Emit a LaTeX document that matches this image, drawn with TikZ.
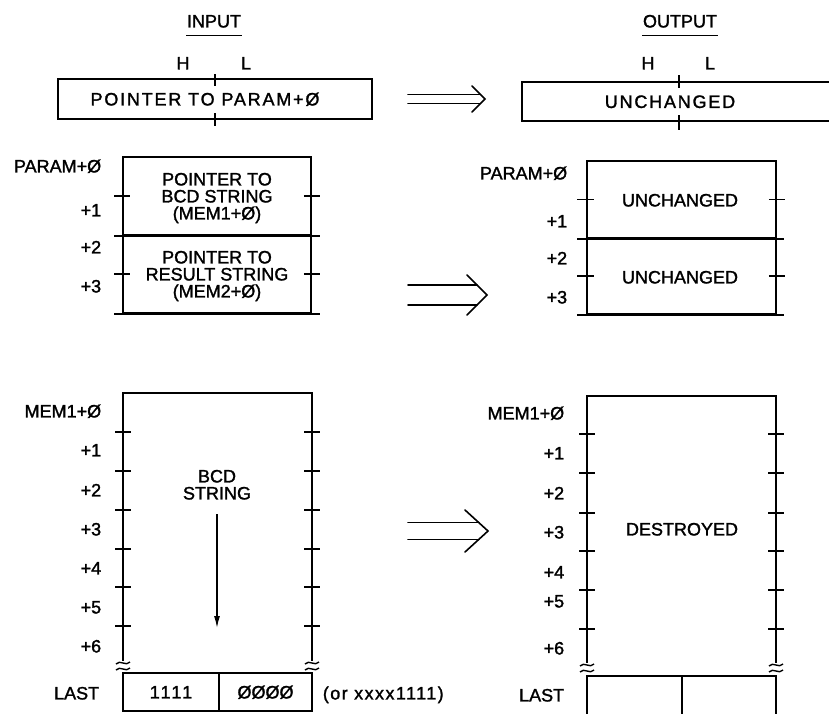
\documentclass[tikz,border=0pt]{standalone}
\usepackage{fontspec}
\setmainfont{Liberation Sans}[FakeBold=1.5]
\usetikzlibrary{calc,arrows.meta}
\begin{document}
\begin{tikzpicture}[x=1pt,y=-1pt,line width=1.7pt,line cap=butt,
  txt/.style={inner sep=0pt,text height=12.9pt,text depth=0pt,font=\fontsize{18}{17}\selectfont},
  wide/.style={txt,font=\fontsize{18}{17}\selectfont\addfontfeature{LetterSpace=10}},
  mtxt/.style={txt,align=center,text height=#1,text depth=0pt},
  lbl/.style={txt,anchor=east},
  cell/.style={draw,inner sep=0pt,minimum width=#1},
  tick/.style={line width=1.7pt},
  arr/.style={line width=1.6pt,line cap=round,line join=miter}]
\useasboundingbox (0,0) rectangle (829,713);

% ---------- headings
\node[txt] (inp) at (214,21) {INPUT};
\draw[line width=1.3pt] ($(inp.south west)+(0,7)$) -- ($(inp.south east)+(0,7)$);
\node[txt] (outp) at (680,21) {OUTPUT};
\draw[line width=1.3pt] ($(outp.south west)+(0,7)$) -- ($(outp.south east)+(0,7)$);

% ---------- top pointer boxes
\node[txt] at (183,63) {H};
\node[txt] at (246,63) {L};
\node[cell=314pt,minimum height=40pt] (ptr) at (215,99) {};
\node[wide] at (205,99) {POINTER TO PARAM+Ø};
\draw[tick] (215,74) -- (215,86) (215,113) -- (215,126);

\node[txt] at (648,63) {H};
\node[txt] at (710,63) {L};
\node[cell=314pt,minimum height=39pt] (ptro) at (679,101.5) {};
\node[wide] at (670,101.5) {UNCHANGED};
\draw[tick] (679,75) -- (679,88) (679,115) -- (679,130);

% ---------- PARAM block input
\node[cell=188pt,minimum height=78pt] (p1) at (217,196) {};
\node[cell=188pt,minimum height=78pt] (p2) at (217,274) {};
\node[mtxt=46.9pt] at (p1.center) {POINTER TO\\BCD STRING\\(MEM1+Ø)};
\node[mtxt=46.9pt] at (p2.center) {POINTER TO\\RESULT STRING\\(MEM2+Ø)};
\foreach \n in {p1,p2}{
  \draw[tick] ($(\n.west)+(-8,0)$) -- ($(\n.west)+(8,0)$);
  \draw[tick] ($(\n.east)+(-8,0)$) -- ($(\n.east)+(8,0)$);
  \draw[tick] ($(\n.south west)+(-8,0)$) -- ($(\n.south east)+(8,0)$);
}
\node[lbl] at (102,166) {PARAM+Ø};
\node[lbl] at (102,210) {+1};
\node[lbl] at (102,247) {+2};
\node[lbl] at (102,286) {+3};

% ---------- PARAM block output
\node[cell=189pt,minimum height=77pt] (q1) at (681.5,199.5) {};
\node[cell=189pt,minimum height=76pt] (q2) at (681.5,276) {};
\node[txt] at (680,200) {UNCHANGED};
\node[txt] at (680,277) {UNCHANGED};
\foreach \n in {q1,q2}{
  \draw[tick] ($(\n.west)+(-9,0)$) -- ($(\n.west)+(8,0)$);
  \draw[tick] ($(\n.east)+(-8,0)$) -- ($(\n.east)+(8,0)$);
  \draw[tick] ($(\n.south west)+(-9,0)$) -- ($(\n.south east)+(7,0)$);
}
\node[lbl] at (568,173) {PARAM+Ø};
\node[lbl] at (568,221) {+1};
\node[lbl] at (568,258) {+2};
\node[lbl] at (568,297) {+3};

% ---------- MEM block input
\coordinate (mtl) at (123,393);
\coordinate (mtr) at (312,393);
\draw (123,661) -- (mtl) -- (mtr) -- (312,661);
\foreach \y in {432,471,510,549,587,626}{
  \draw[tick] (115,\y) -- (131,\y);
  \draw[tick] (304,\y) -- (320,\y);
}
\foreach \x in {123,312}{
  \draw[line width=1.4pt] (\x-7,664) .. controls (\x-3,659) and (\x+3,667) .. (\x+7,662);
  \draw[line width=1.4pt] (\x-7,670) .. controls (\x-3,665) and (\x+3,673) .. (\x+7,668);
}
\node[cell=96pt,minimum height=38pt] (la) at (171,692) {};
\node[cell=93pt,minimum height=38pt] (lb) at (265.5,692) {};
\node[txt,font=\fontsize{18}{17}\selectfont\addfontfeature{LetterSpace=12}] at (la.center) {1111};
\node[txt] at (lb.center) {ØØØØ};
\node[txt,anchor=west,font=\fontsize{18}{17}\selectfont\addfontfeature{LetterSpace=8}] at (322,693) {(or xxxx1111)};
\node[mtxt=30.9pt] (bcd) at (217,484) {BCD\\STRING};
\coordinate (bcdend) at (217,628);
\draw[-{Latex[length=12pt,width=6pt]},line width=1.4pt] ($(bcd.south)+(0,14)$) -- (bcdend);
\node[lbl] at (102,411) {MEM1+Ø};
\node[lbl] at (102,450) {+1};
\node[lbl] at (102,490) {+2};
\node[lbl] at (102,529) {+3};
\node[lbl] at (102,568) {+4};
\node[lbl] at (102,607) {+5};
\node[lbl] at (102,646) {+6};
\node[lbl] at (100,693) {LAST};

% ---------- MEM block output
\coordinate (ntl) at (587,396);
\coordinate (ntr) at (776,396);
\draw (587,663) -- (ntl) -- (ntr) -- (776,663);
\foreach \y in {434,473,513,551,590,629}{
  \draw[tick] (579,\y) -- (595,\y);
  \draw[tick] (768,\y) -- (784,\y);
}
\foreach \x in {587,776}{
  \draw[line width=1.4pt] (\x-7,666) .. controls (\x-3,661) and (\x+3,669) .. (\x+7,664);
  \draw[line width=1.4pt] (\x-7,672) .. controls (\x-3,667) and (\x+3,675) .. (\x+7,670);
}
\coordinate (nl) at (587,676);
\coordinate (nm) at (682,676);
\coordinate (nr) at (776,676);
\draw (587,720) -- (nl) -- (nr) -- (776,720);
\draw (nm) -- (682,720);
\node[txt] at (682,529) {DESTROYED};
\node[lbl] at (565,413) {MEM1+Ø};
\node[lbl] at (565,453) {+1};
\node[lbl] at (565,493) {+2};
\node[lbl] at (565,532) {+3};
\node[lbl] at (565,572) {+4};
\node[lbl] at (565,601) {+5};
\node[lbl] at (565,648) {+6};
\node[lbl] at (565,695) {LAST};

% ---------- double arrows
\coordinate (a1) at (485,99);
\draw[arr] ($(a1)+(-77,-4.5)$) -- ($(a1)+(-5,-4.5)$);
\draw[arr] ($(a1)+(-77,4.5)$) -- ($(a1)+(-5,4.5)$);
\draw[arr] ($(a1)+(-13,-13)$) -- (a1) -- ($(a1)+(-13,13)$);

\coordinate (a2) at (487,295);
\draw[arr] ($(a2)+(-79,-10)$) -- ($(a2)+(-10,-10)$);
\draw[arr] ($(a2)+(-79,10)$) -- ($(a2)+(-10,10)$);
\draw[arr] ($(a2)+(-20,-20)$) -- (a2) -- ($(a2)+(-20,20)$);

\coordinate (a3) at (488,531);
\draw[arr] ($(a3)+(-80,-8.5)$) -- ($(a3)+(-9,-8.5)$);
\draw[arr] ($(a3)+(-80,8.5)$) -- ($(a3)+(-9,8.5)$);
\draw[arr] ($(a3)+(-23,-21)$) -- (a3) -- ($(a3)+(-23,21)$);
\end{tikzpicture}
\end{document}
